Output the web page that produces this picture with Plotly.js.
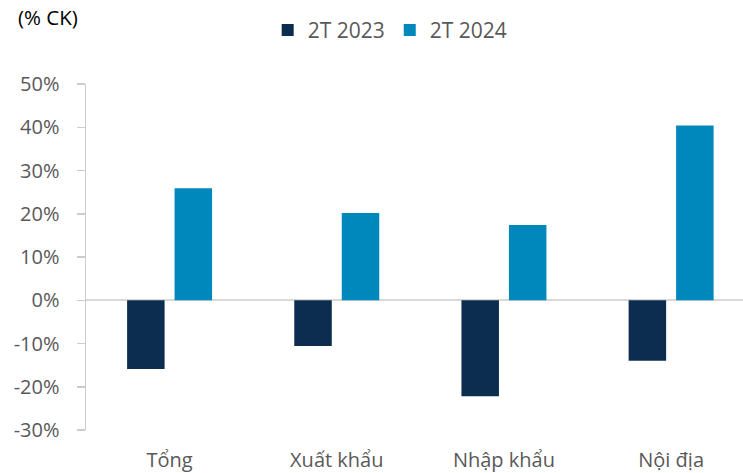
<!DOCTYPE html>
<html>
<head>
<meta charset="utf-8">
<script src="https://cdn.plot.ly/plotly-3.0.1.min.js"></script>
<style>html,body{margin:0;padding:0;background:#fff;}#chart{width:743px;height:473px;}</style>
</head>
<body>
<div id="chart"></div>
<script>
var categories = ["Tổng", "Xuất khẩu", "Nhập khẩu", "Nội địa"];
var series2023 = [-15.9, -10.6, -22.2, -14.0];
var series2024 = [25.9, 20.2, 17.4, 40.4];
var seriesNames = ["2T 2023", "2T 2024"];
var yTicks = [-30, -20, -10, 0, 10, 20, 30, 40, 50];
var unitLabel = "(% CK)";

var FONT = "Open Sans, Noto Sans, sans-serif";
var GRAY = "#595959";

var traces = [
  {type: "bar", name: seriesNames[0], x: categories, y: series2023,
   marker: {color: "#0c2d4f", line: {width: 0}}, hoverinfo: "none"},
  {type: "bar", name: seriesNames[1], x: categories, y: series2024,
   marker: {color: "#0087bb", line: {width: 0}}, hoverinfo: "none"}
];

var layout = {
  width: 743, height: 473,
  margin: {l: 86, r: 0, t: 84, b: 43, pad: 0},
  paper_bgcolor: "#fff", plot_bgcolor: "#fff",
  barmode: "group", bargap: 0.432, bargroupgap: 0.21,
  font: {family: FONT, size: 20, color: GRAY},
  showlegend: true,
  legend: {orientation: "h", x: 0.463, xanchor: "center", y: 1.155, yanchor: "middle",
           font: {family: FONT, size: 21, color: GRAY}, itemwidth: 30, traceorder: "normal"},
  xaxis: {type: "category", range: [-0.5, 3.43], showline: false, showgrid: false, zeroline: false,
          ticks: "outside", ticklen: 12, tickcolor: "rgba(0,0,0,0)",
          tickfont: {family: FONT, size: 20, color: GRAY}, fixedrange: true},
  yaxis: {range: [-30, 50], tickvals: yTicks, ticktext: yTicks.map(function(v){return v + "%";}),
          showline: true, linecolor: "#cccccc", linewidth: 1.5,
          ticks: "outside", ticklen: 8, tickcolor: "#cccccc", tickwidth: 1.5,
          ticklabelstandoff: 13,
          showgrid: false, zeroline: true, zerolinecolor: "#d9d9d9", zerolinewidth: 2,
          tickfont: {family: FONT, size: 20, color: GRAY}, fixedrange: true},
  annotations: [{text: unitLabel, xref: "paper", yref: "paper", x: -70/657, y: (430-17)/346,
                 xanchor: "left", yanchor: "middle", showarrow: false,
                 font: {family: FONT, size: 20.5, color: "#000"}}]
};

Plotly.newPlot("chart", traces, layout, {displayModeBar: false, staticPlot: true});
</script>
</body>
</html>
